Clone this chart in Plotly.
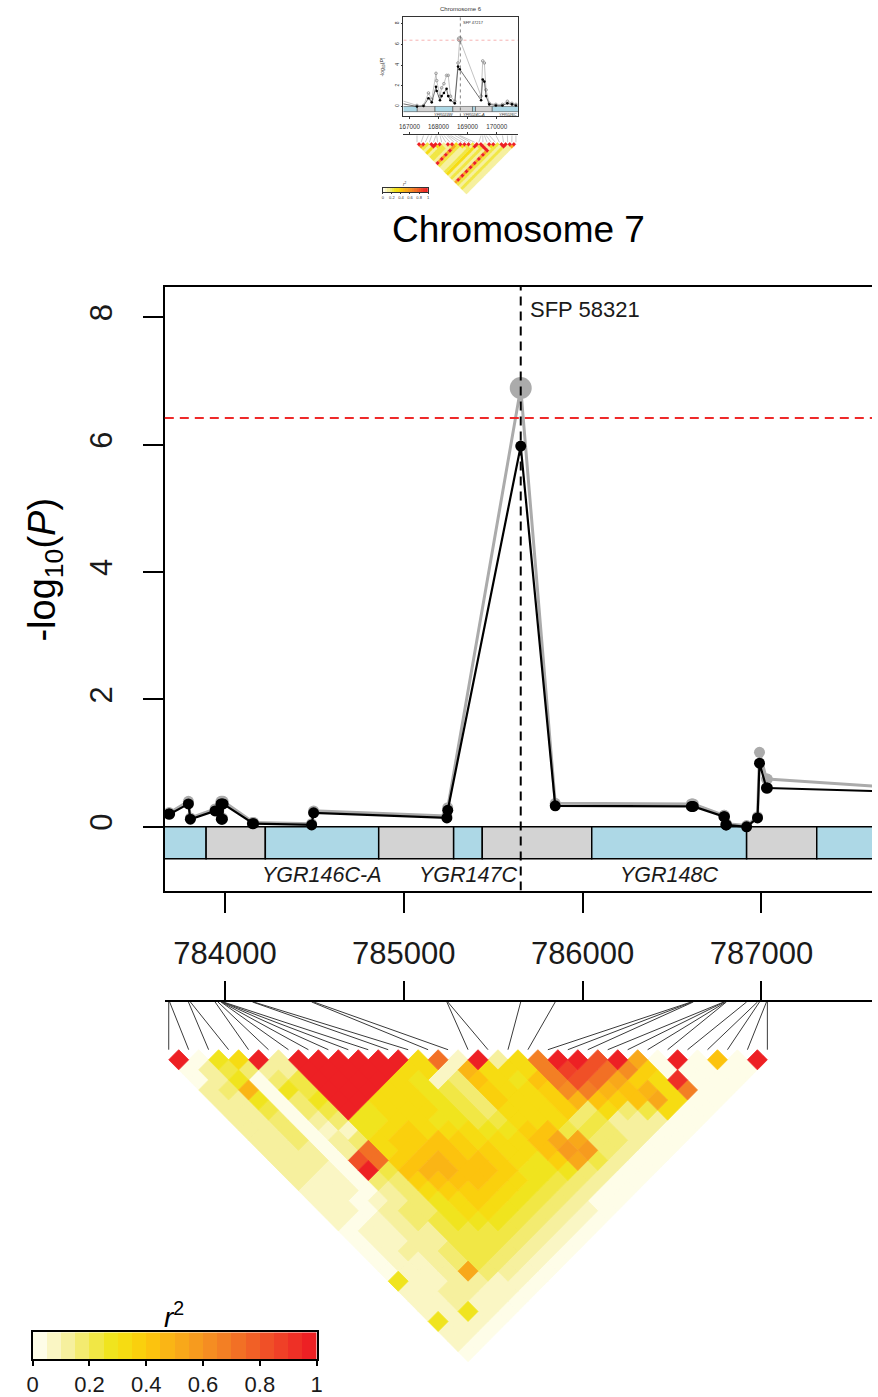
import plotly.graph_objects as go

W, H = 878, 1397
FONT = "Liberation Sans, Arial, Helvetica, sans-serif"


def fx(p):
    return p / W


def fy(p):
    return 1 - p / H


# ===================== Chromosome 7 (main panel) =====================
snp_pos = [783686, 783691, 783796, 783807, 783945, 783961, 783978, 783980,
           783984, 783986, 783990, 784154, 784160, 784485, 784496, 785241,
           785246, 785654, 785847, 786608, 786613, 786619, 786790, 786793,
           786801, 786804, 786917, 786978, 786989, 787028, 787033]
logp_black = [0.20, 0.20, 0.36, 0.12, 0.25, 0.25, 0.36, 0.12,
              0.36, 0.12, 0.36, 0.05, 0.05, 0.03, 0.22, 0.14,
              0.26, 5.98, 0.33, 0.32, 0.32, 0.32, 0.16, 0.16,
              0.03, 0.03, 0.00, 0.14, 1.00, 0.61, 0.61]
logp_grey = [0.22, 0.22, 0.40, 0.14, 0.28, 0.28, 0.40, 0.14,
             0.40, 0.14, 0.40, 0.07, 0.07, 0.05, 0.25, 0.17,
             0.30, 6.89, 0.37, 0.36, 0.36, 0.36, 0.18, 0.18,
             0.05, 0.05, 0.02, 0.16, 1.17, 0.75, 0.75]
# next SNP lies beyond the right edge of the view
offview_pos = [787900]
offview_black = [0.54]
offview_grey = [0.59]

threshold = 6.42
peak_name = "SFP 58321"
peak_pos = 785654

gene_bounds = [783500, 783895, 784226, 784860, 785279, 785439, 786051, 786917, 787309, 787900]
gene_kind = ["gene", "inter", "gene", "inter", "gene", "inter", "gene", "inter", "gene"]
gene_names = ["", "", "YGR146C-A", "", "YGR147C", "", "YGR148C", "", ""]

x_ticks = [784000, 785000, 786000, 787000]
y_ticks = [0, 2, 4, 6, 8]

# LD (r^2) between SNP i and SNP i+d, one string per diagonal d = 1..30,
# each character = r^2 class 0..19 (class k covers k/20 .. (k+1)/20)
ld_rows = [
    "j056j2jjjjjj6e1j26djjgja0j080j",
    "024322jjjjj6619666dhgec700000",
    "025034jjjj65138658dgea76i000",
    "239054jjj665437667cd9896d00",
    "225035jj66654376679878a600",
    "224034j566654366673634600",
    "223023556655446663422200",
    "22301156766655784432200",
    "223023677876668aa33200",
    "22202e678877668bb3200",
    "2220ge789887657a4200",
    "2210j48998875553200",
    "211033788876543200",
    "11102367776543200",
    "1101235676543200",
    "110233566543210",
    "10123455543210",
    "0112244443210",
    "011224443210",
    "01223443210",
    "0112343210",
    "0112a3210",
    "51122110",
    "1122110",
    "112110",
    "11510",
    "5110",
    "110",
    "10",
    "0",
]

cbar_ticks = [0, 0.2, 0.4, 0.6, 0.8, 1]
cbar_ticktext = ["0", "0.2", "0.4", "0.6", "0.8", "1"]

# ===================== Chromosome 6 (thumbnail) =====================
mini_pos = [167261, 167486, 167655, 167768, 167915, 167938, 168051, 168108,
            168186, 168277, 168333, 168413, 168559, 168672, 168729, 169464,
            169520, 169577, 169634, 169746, 169972, 170197, 170367, 170525, 170661]
mini_black = [0.0, 0.05, 0.8, 0.4, 1.9, 1.5, 0.6, 1.0,
              1.3, 1.7, 1.0, 0.6, 0.3, 3.85, 3.6, 0.6,
              2.6, 2.4, 1.0, 0.2, 0.1, 0.1, 0.3, 0.2, 0.1]
mini_grey = [0.1, 0.1, 1.3, 0.7, 3.2, 2.5, 1.0, 1.8,
             2.2, 3.0, 3.0, 1.0, 0.5, 4.2, 6.5, 1.0,
             4.4, 4.2, 1.6, 0.3, 0.2, 0.2, 0.5, 0.3, 0.2]
mini_left_pos = [166700]
mini_left_black = [0.3]
mini_left_grey = [0.6]
mini_threshold = 6.4
mini_peak_name = "SFP 47217"
mini_peak_pos = 168751
mini_gene_bounds = [166600, 167271, 167881, 168492, 169170, 169271, 169848, 170900]
mini_gene_kind = ["gene", "inter", "gene", "inter", "gene", "inter", "gene"]
mini_gene_names = ["", "", "YFR023W", "", "YFR024C-A", "", "YFR026C"]
mini_x_ticks = [167000, 168000, 169000, 170000]
mini_ld_rows = [
    "jj4jjj2jj6jjj4jj2jj4jjjj",
    "a42j6423a4642j4j2642j2a",
    "4262442a4224624j242422",
    "262442j42246242j42422",
    "62442a42246242a42422",
    "2442j42246242j42422",
    "442a42246242a42422",
    "42j42246242j42422",
    "2a42246242a42422",
    "j42246242j42422",
    "42246242a42422",
    "2246242j42422",
    "246242a42422",
    "46242j42422",
    "6242a42422",
    "242j42422",
    "42a42422",
    "2j42422",
    "a42422",
    "42422",
    "2422",
    "422",
    "22",
    "2",
]

# ---------------- styling ----------------
R2_COLORS = ["#FEFDE8", "#FAF6C4", "#F6F09E", "#F3EB70", "#F1E745",
             "#F0E41E", "#F6DC12", "#FAD00D", "#FCC30E", "#FAB515",
             "#F8A81A", "#F79B1E", "#F58D22", "#F37F24", "#F27025",
             "#F16026", "#F05027", "#EF4027", "#EE3026", "#ED2024"]
GENE_COL = {"gene": "#ADD8E6", "inter": "#D3D3D3"}
GREY = "#ABABAB"

fig = go.Figure()

# ---------- main panel geometry ----------
X_L, X_R = 161, 878
Y_TOP, Y_BOT = 288, 895
x_range = [783664, 787618]
y_range = [-1.0, 8.484]
px_per_bp = (X_R - X_L) / (x_range[1] - x_range[0])

fig.add_trace(go.Scatter(x=snp_pos + offview_pos, y=logp_grey + offview_grey,
                         mode="lines+markers", line=dict(color=GREY, width=3),
                         marker=dict(color=GREY, size=11), xaxis="x", yaxis="y",
                         hoverinfo="skip"))
ipk = logp_grey.index(max(logp_grey))
fig.add_trace(go.Scatter(x=[snp_pos[ipk]], y=[logp_grey[ipk]], mode="markers",
                         marker=dict(color=GREY, size=22), xaxis="x", yaxis="y",
                         hoverinfo="skip"))
fig.add_trace(go.Scatter(x=snp_pos + offview_pos, y=logp_black + offview_black,
                         mode="lines+markers", line=dict(color="black", width=2.2),
                         marker=dict(color="black", size=11), xaxis="x", yaxis="y",
                         hoverinfo="skip"))

shapes = []
annotations = []


def note(x, y, text, size, color="black", xref="paper", yref="paper", **kw):
    d = dict(xref=xref, yref=yref, x=x, y=y, text=text, showarrow=False,
             font=dict(family=FONT, size=size, color=color), xanchor="center", yanchor="middle")
    d.update(kw)
    annotations.append(d)


for k, kind in enumerate(gene_kind):
    shapes.append(dict(type="rect", xref="x", yref="y", x0=gene_bounds[k], x1=gene_bounds[k + 1],
                       y0=-0.5, y1=0, fillcolor=GENE_COL[kind], line=dict(color="black", width=1.5),
                       layer="below"))
    if gene_names[k]:
        note((gene_bounds[k] + gene_bounds[k + 1]) / 2, -0.76, "<i>%s</i>" % gene_names[k], 21.5,
             "#1a1a1a", xref="x", yref="y")

shapes.append(dict(type="line", xref="x", yref="y", x0=peak_pos, x1=peak_pos, y0=y_range[0],
                   y1=y_range[1], line=dict(color="black", width=2, dash="9px,6px"), layer="above"))
shapes.append(dict(type="line", xref="paper", yref="y", x0=fx(X_L), x1=1, y0=threshold,
                   y1=threshold, line=dict(color="#EE2A2A", width=2, dash="9px,6px"), layer="above"))
note(peak_pos, 8.12, peak_name, 22, "#1a1a1a", xref="x", yref="y", xanchor="left", xshift=7)

# ---------- LD panel ----------
Y_LDAXIS = 1007
n_snp = len(snp_pos)
LD_X0 = snp_pos[0]
LD_DX = (snp_pos[-1] - snp_pos[0]) / (n_snp - 1)
unit_px = LD_DX / 2 * px_per_bp
y2_range = [-(H - Y_LDAXIS) / unit_px, 0]
LD_TOP = -(1055 - Y_LDAXIS) / unit_px

lx, ly = [], []
for k, p in enumerate(snp_pos):
    lx += [p, LD_X0 + k * LD_DX, None]
    ly += [0, LD_TOP, None]
fig.add_trace(go.Scatter(x=lx, y=ly, mode="lines", line=dict(color="#3a3a3a", width=1),
                         xaxis="x2", yaxis="y2", hoverinfo="skip"))


def add_ld(rows, x0, dx, top, xa, ya, lw):
    bins = {b: ([], []) for b in range(20)}
    for d, row in enumerate(rows, start=1):
        for i, ch in enumerate(row):
            b = min(int(ch, 36), 19)
            j = i + d
            cx = x0 + (i + j) / 2 * dx
            cy = top - d
            xs, ys = bins[b]
            xs += [cx, cx + dx / 2, cx, cx - dx / 2, cx, None]
            ys += [cy + 1, cy, cy - 1, cy, cy + 1, None]
    for b in range(20):
        xs, ys = bins[b]
        if not xs:
            continue
        fig.add_trace(go.Scatter(x=xs, y=ys, mode="lines", fill="toself",
                                 fillcolor=R2_COLORS[b], line=dict(color=R2_COLORS[b], width=lw),
                                 xaxis=xa, yaxis=ya, hoverinfo="skip"))


add_ld(ld_rows, LD_X0, LD_DX, LD_TOP, "x2", "y2", 0.8)

# ---------- colour key ----------
cs = []
for b in range(20):
    cs += [[b / 20, R2_COLORS[b]], [(b + 1) / 20, R2_COLORS[b]]]
key_x = [(b + 0.5) / 20 for b in range(20)]
fig.add_trace(go.Heatmap(z=[key_x], x=key_x, y=[0], zmin=0, zmax=1, showscale=False,
                         colorscale=cs, xaxis="x3", yaxis="y3", hoverinfo="skip"))
note(fx(170), fy(1322), "<i>r</i><sup>2</sup>", 28)

# ---------- titles ----------
note(fx(520), fy(231), "Chromosome 7", 37)
note(fx(40), fy(572), "-log<sub>10</sub>(<i>P</i>)", 38, textangle=-90)

# ===================== thumbnail =====================
MX_L, MX_R, MY_T, MY_B = 403, 519, 17, 117
mini_x_range = [166797, 170729]
mini_y_range = [-0.96, 8.65]
mini_ppb = (MX_R - MX_L) / (mini_x_range[1] - mini_x_range[0])

fig.add_trace(go.Scatter(x=mini_left_pos + mini_pos, y=mini_left_grey + mini_grey, mode="lines+markers",
                         line=dict(color="#9a9a9a", width=0.6),
                         marker=dict(color="#9a9a9a", size=2.6, symbol="circle-open"),
                         xaxis="x4", yaxis="y4", hoverinfo="skip"))
mpk = mini_grey.index(max(mini_grey))
fig.add_trace(go.Scatter(x=[mini_pos[mpk]], y=[mini_grey[mpk]], mode="markers",
                         marker=dict(color="#9a9a9a", size=5, symbol="circle-open"),
                         xaxis="x4", yaxis="y4", hoverinfo="skip"))
fig.add_trace(go.Scatter(x=mini_left_pos + mini_pos, y=mini_left_black + mini_black, mode="lines+markers",
                         line=dict(color="#333333", width=0.7),
                         marker=dict(color="black", size=2.6),
                         xaxis="x4", yaxis="y4", hoverinfo="skip"))
for k, kind in enumerate(mini_gene_kind):
    shapes.append(dict(type="rect", xref="x4", yref="y4", x0=mini_gene_bounds[k], x1=mini_gene_bounds[k + 1],
                       y0=-0.5, y1=0, fillcolor=GENE_COL[kind], line=dict(color="#333", width=0.5),
                       layer="below"))
    if mini_gene_names[k]:
        note((mini_gene_bounds[k] + mini_gene_bounds[k + 1]) / 2, -0.75,
             "<i>%s</i>" % mini_gene_names[k], 4, "#333", xref="x4", yref="y4")
shapes.append(dict(type="line", xref="x4", yref="y4", x0=mini_peak_pos, x1=mini_peak_pos,
                   y0=mini_y_range[0], y1=mini_y_range[1], line=dict(color="#333", width=0.6, dash="dot"),
                   layer="above"))
shapes.append(dict(type="line", xref="x4", yref="y4", x0=mini_x_range[0], x1=mini_x_range[1],
                   y0=mini_threshold, y1=mini_threshold, line=dict(color="#F08080", width=0.6, dash="dot"),
                   layer="above"))
note(mini_peak_pos, 8.1, mini_peak_name, 4, "#333", xref="x4", yref="y4", xanchor="left", xshift=1)
note(fx(461), fy(9), "Chromosome 6", 6, "#333")
note(fx(382), fy(67), "-log<sub>10</sub>(<i>P</i>)", 5, "#333", textangle=-90)

# mini LD
MY_LDAXIS = 136
n_mini = len(mini_pos)
MLD_X0 = mini_pos[0]
MLD_DX = (mini_pos[-1] - mini_pos[0]) / (n_mini - 1)
munit = MLD_DX / 2 * mini_ppb
MY_LDBOT = 205
y5_range = [-(MY_LDBOT - MY_LDAXIS) / munit, 0]
MLD_TOP = -(143 - MY_LDAXIS) / munit
mlx, mly = [], []
for k, p in enumerate(mini_pos):
    mlx += [p, MLD_X0 + k * MLD_DX, None]
    mly += [0, MLD_TOP, None]
fig.add_trace(go.Scatter(x=mlx, y=mly, mode="lines", line=dict(color="#777", width=0.4),
                         xaxis="x5", yaxis="y5", hoverinfo="skip"))
add_ld(mini_ld_rows, MLD_X0, MLD_DX, MLD_TOP, "x5", "y5", 0.2)

# mini colour key
fig.add_trace(go.Heatmap(z=[key_x], x=key_x, y=[0], zmin=0, zmax=1, showscale=False, colorscale=cs,
                         xaxis="x6", yaxis="y6", hoverinfo="skip"))
note(fx(405), fy(185), "<i>r</i><sup>2</sup>", 4.5, "#333")

# ---------------- layout ----------------
ax_common = dict(showgrid=False, zeroline=False, color="black")
layout = dict(
    width=W, height=H, margin=dict(l=0, r=0, t=0, b=0),
    paper_bgcolor="white", plot_bgcolor="rgba(0,0,0,0)", showlegend=False,
    font=dict(family=FONT, color="black"),
    xaxis=dict(domain=[fx(X_L), 1], range=x_range, anchor="y", showline=True, linewidth=2,
               linecolor="black", mirror=True, ticks="outside", ticklen=20, tickwidth=2,
               tickcolor="black", tickvals=x_ticks, ticktext=[str(v) for v in x_ticks],
               tickfont=dict(size=31, color="#1a1a1a"), ticklabelstandoff=14, **ax_common),
    yaxis=dict(domain=[fy(Y_BOT), fy(Y_TOP)], range=y_range, anchor="x", showline=True, linewidth=2,
               linecolor="black", ticks="outside", ticklen=20, tickwidth=2, tickcolor="black",
               tickvals=y_ticks, ticktext=[str(v) for v in y_ticks], tickangle=-90,
               tickfont=dict(size=31, color="#1a1a1a"), ticklabelstandoff=18, **ax_common),
    xaxis2=dict(domain=[fx(X_L), 1], range=x_range, anchor="y2", side="top", showline=True,
                linewidth=2, linecolor="black", ticks="outside", ticklen=19, tickwidth=2,
                tickcolor="black", tickvals=x_ticks, showticklabels=False, **ax_common),
    yaxis2=dict(domain=[0, fy(Y_LDAXIS)], range=y2_range, anchor="x2", visible=False, **ax_common),
    xaxis3=dict(domain=[fx(27), fx(315)], range=[0, 1], anchor="y3", showline=True, linewidth=1.5,
                linecolor="black", mirror=True, ticks="outside", ticklen=5, tickwidth=1.5,
                tickcolor="black", tickvals=cbar_ticks, ticktext=cbar_ticktext,
                tickfont=dict(size=22, color="#1a1a1a"), ticklabelstandoff=0, **ax_common),
    yaxis3=dict(domain=[fy(1366), fy(1339)], range=[-0.5, 0.5], anchor="x3", showline=True,
                linewidth=1.5, linecolor="black", mirror=True, showticklabels=False, ticks="",
                **ax_common),
    xaxis4=dict(domain=[fx(MX_L), fx(MX_R)], range=mini_x_range, anchor="y4", showline=True,
                linewidth=0.6, linecolor="#333", mirror=True, ticks="outside", ticklen=2,
                tickwidth=0.6, tickcolor="#333", tickvals=mini_x_ticks,
                ticktext=[str(v) for v in mini_x_ticks], tickfont=dict(size=6.3, color="#333"),
                ticklabelstandoff=2, **ax_common),
    yaxis4=dict(domain=[fy(MY_B), fy(MY_T)], range=mini_y_range, anchor="x4", showline=True,
                linewidth=0.6, linecolor="#333", mirror=True, ticks="outside", ticklen=2,
                tickwidth=0.6, tickcolor="#333", tickvals=y_ticks, tickangle=-90,
                tickfont=dict(size=5, color="#333"), **ax_common),
    xaxis5=dict(domain=[fx(MX_L), fx(MX_R)], range=mini_x_range, anchor="y5", side="top",
                showline=True, linewidth=0.6, linecolor="#333", ticks="outside", ticklen=3,
                tickwidth=0.6, tickcolor="#333", tickvals=mini_x_ticks, showticklabels=False,
                **ax_common),
    yaxis5=dict(domain=[fy(MY_LDBOT), fy(MY_LDAXIS)], range=y5_range, anchor="x5", visible=False,
                **ax_common),
    xaxis6=dict(domain=[fx(382), fx(428)], range=[0, 1], anchor="y6", showline=True, linewidth=0.4,
                linecolor="#333", mirror=True, ticks="outside", ticklen=1, tickwidth=0.4,
                tickcolor="#333", tickvals=cbar_ticks, ticktext=cbar_ticktext,
                tickfont=dict(size=4, color="#333"), **ax_common),
    yaxis6=dict(domain=[fy(193), fy(189)], range=[-0.5, 0.5], anchor="x6", showline=True,
                linewidth=0.4, linecolor="#333", mirror=True, showticklabels=False, ticks="",
                **ax_common),
    shapes=shapes,
    annotations=annotations,
)
fig.update_layout(**layout)
fig.write_html("out.html")
